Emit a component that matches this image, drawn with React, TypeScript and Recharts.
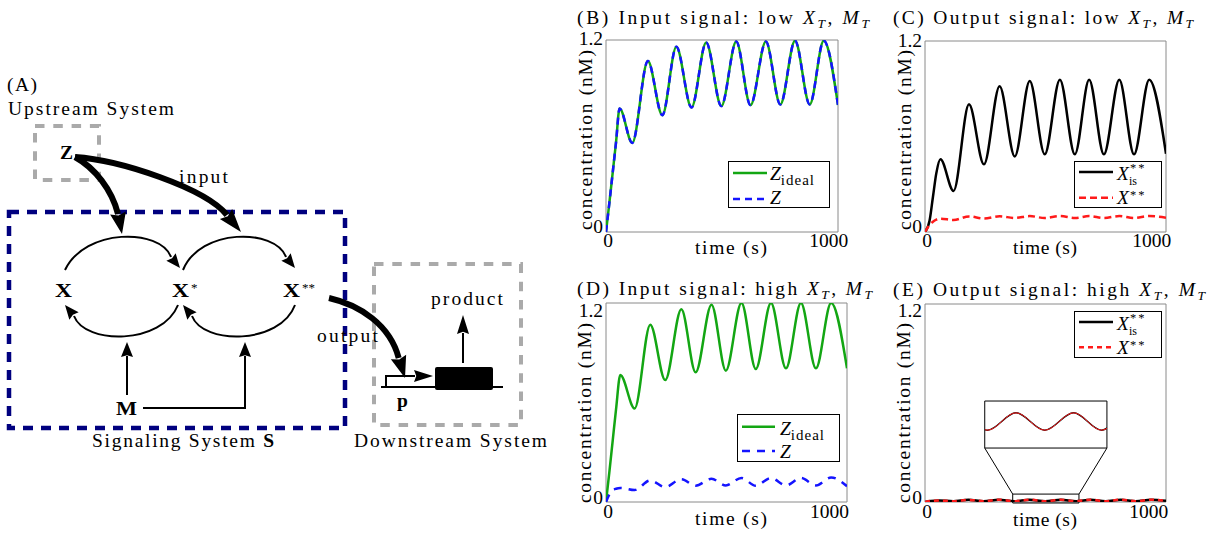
import React from 'react';
import { LineChart, Line, XAxis, YAxis, ReferenceArea, ReferenceLine, Legend } from 'recharts';

const SERIF = '"Liberation Serif", "Times New Roman", serif';
const FS = 19.5;
const GREEN = '#13a613';
const BLUE = '#1414ff';
const RED = '#ff1a1a';
const FRAME = '#8a8a8a';
const NAVY = '#00007f';
const GREY = '#aaaaaa';

// ---------- Panel B: input signal, low X_T, M_T ----------
const timeB = [0, 15, 30, 45, 61, 118, 188, 253, 316, 384, 450, 518, 585, 649, 718, 783, 849, 915, 978, 1042];
const zIdealB = [0, 0.18, 0.37, 0.56, 0.772, 0.557, 1.069, 0.73, 1.158, 0.778, 1.185, 0.787, 1.19, 0.793, 1.19, 0.797, 1.196, 0.797, 1.196, 0.793];
const zB = [0, 0.18, 0.37, 0.56, 0.772, 0.557, 1.069, 0.73, 1.158, 0.778, 1.185, 0.787, 1.19, 0.793, 1.19, 0.797, 1.196, 0.797, 1.196, 0.793];

// ---------- Panel C: output signal, low X_T, M_T ----------
const timeC = [0, 20, 35, 50, 68, 126, 194, 260, 329, 396, 462, 528, 595, 661, 724, 789, 857, 922, 989, 1063];
const xIsC = [0, 0.07, 0.22, 0.37, 0.457, 0.258, 0.802, 0.425, 0.915, 0.475, 0.949, 0.488, 0.957, 0.488, 0.957, 0.488, 0.957, 0.488, 0.957, 0.492];
const xC = [0, 0.045, 0.065, 0.078, 0.084, 0.075, 0.098, 0.085, 0.099, 0.088, 0.1, 0.088, 0.1, 0.088, 0.1, 0.088, 0.1, 0.088, 0.1, 0.09];

// ---------- Panel D: input signal, high X_T, M_T ----------
const timeD = [0, 15, 30, 45, 64, 128, 198, 265, 337, 401, 472, 536, 606, 670, 738, 805, 872, 939, 1007, 1078];
const zIdealD = [0, 0.18, 0.37, 0.56, 0.766, 0.564, 1.069, 0.735, 1.162, 0.782, 1.19, 0.792, 1.2, 0.802, 1.2, 0.806, 1.2, 0.806, 1.2, 0.806];
const zD = [0, 0.045, 0.07, 0.08, 0.085, 0.072, 0.13, 0.09, 0.138, 0.098, 0.14, 0.1, 0.145, 0.098, 0.145, 0.1, 0.145, 0.1, 0.148, 0.095];

// ---------- Panel E: output signal, high X_T, M_T ----------
const timeE = [0, 25, 63, 126, 194, 262, 330, 398, 467, 537, 607, 675, 740, 807, 875, 942, 1010, 1077];
const xIsE = [0, 0.006, 0.009, 0.005, 0.013, 0.005, 0.014, 0.005, 0.014, 0.005, 0.014, 0.005, 0.014, 0.005, 0.014, 0.005, 0.014, 0.007];
const xE = [0, 0.006, 0.009, 0.005, 0.013, 0.005, 0.014, 0.005, 0.014, 0.005, 0.014, 0.005, 0.014, 0.005, 0.014, 0.005, 0.014, 0.007];

// zoom window of panel E inset
const insetT = [392, 688];
const insetV = [-0.0042, 0.0201];
const zoomBoxV = [-0.006, 0.048];
const bigBoxT = [267, 813];
const bigBoxV = [0.327, 0.612];

const xTicks = [0, 1000];
const yTicks = [0, 1.2];

const dataB = timeB.map((t, i) => ({ t, zIdeal: zIdealB[i], z: zB[i] }));
const dataC = timeC.map((t, i) => ({ t, xis: xIsC[i], x: xC[i] }));
const dataD = timeD.map((t, i) => ({ t, zIdeal: zIdealD[i], z: zD[i] }));
const dataE = timeE.map((t, i) => ({ t, xis: xIsE[i], x: xE[i] }));

function makeXTick(dy: number) {
  return (p: any) => (
    <text x={p.x + (p.payload.value === 0 ? 2 : 0)} y={p.y + dy} textAnchor="middle" fontSize={FS} fontFamily={SERIF} fill="#000">
      {String(p.payload.value)}
    </text>
  );
}
function makeYTick(topDy: number, zeroDy: number) {
  return (p: any) => {
    const isZero = p.payload.value === 0;
    return (
      <text x={p.x - 3} y={p.y + (isZero ? zeroDy : topDy)} textAnchor="end" fontSize={FS} fontFamily={SERIF} fill="#000">
        {String(p.payload.value)}
      </text>
    );
  };
}

function LegendZ({ w, h, ly1, ly2, lx2, tx, ty1, ty2, dash }: any) {
  return (
    <svg width={w} height={h} style={{ display: 'block' }}>
      <rect x={0.5} y={0.5} width={w - 1} height={h - 1} fill="#fff" stroke="#000" strokeWidth={1} />
      <line x1={5} x2={lx2} y1={ly1} y2={ly1} stroke={GREEN} strokeWidth={2.5} />
      <text x={tx} y={ty1} fontSize={FS} fontFamily={SERIF}>
        <tspan fontStyle="italic">Z</tspan>
        <tspan fontSize={15} dy={5} letterSpacing={1}>ideal</tspan>
      </text>
      <line x1={5} x2={lx2} y1={ly2} y2={ly2} stroke={BLUE} strokeWidth={2.5} strokeDasharray={dash} />
      <text x={tx} y={ty2} fontSize={FS} fontFamily={SERIF} fontStyle="italic">Z</text>
    </svg>
  );
}

function LegendX({ w, h, ly1, ly2, ty1, ty2, dash }: any) {
  return (
    <svg width={w} height={h} style={{ display: 'block' }}>
      <rect x={0.5} y={0.5} width={w - 1} height={h - 1} fill="#fff" stroke="#000" strokeWidth={1} />
      <line x1={5} x2={39} y1={ly1} y2={ly1} stroke="#000" strokeWidth={2.5} />
      <text x={43} y={ty1} fontSize={FS} fontFamily={SERIF} fontStyle="italic">X</text>
      <text x={56} y={ty1 - 8.5} fontSize={12.5} fontFamily={SERIF} letterSpacing={2}>**</text>
      <text x={55} y={ty1 + 5} fontSize={12} fontFamily={SERIF}>is</text>
      <line x1={5} x2={39} y1={ly2} y2={ly2} stroke={RED} strokeWidth={2.5} strokeDasharray={dash} />
      <text x={43} y={ty2} fontSize={FS} fontFamily={SERIF} fontStyle="italic">X</text>
      <text x={56} y={ty2 - 5.5} fontSize={12.5} fontFamily={SERIF} letterSpacing={2}>**</text>
    </svg>
  );
}

function head(tip: number[], base: number[], w: number) {
  const dx = tip[0] - base[0];
  const dy = tip[1] - base[1];
  const L = Math.hypot(dx, dy);
  const px = (-dy / L) * (w / 2);
  const py = (dx / L) * (w / 2);
  const nx = base[0] + dx * 0.12;
  const ny = base[1] + dy * 0.12;
  return `M${tip[0]},${tip[1]} L${base[0] + px},${base[1] + py} L${nx},${ny} L${base[0] - px},${base[1] - py} Z`;
}

function Title({ x, y, w, text }: any) {
  return (
    <text x={x} y={y} fontSize={FS} fontFamily={SERIF} textLength={w} lengthAdjust="spacing">
      {text}
      <tspan fontStyle="italic">X</tspan>
      <tspan fontStyle="italic" fontSize={13.5} dy={4}>T</tspan>
      <tspan dy={-4}>{', '}</tspan>
      <tspan fontStyle="italic">M</tspan>
      <tspan fontStyle="italic" fontSize={13.5} dy={4}>T</tspan>
    </text>
  );
}

function AxisTitles({ bx, cy, tx, ty, tw }: any) {
  return (
    <g fontFamily={SERIF} fontSize={FS}>
      <text transform={`translate(${bx},${cy}) rotate(-90)`} textAnchor="middle" textLength={180} lengthAdjust="spacing">
        concentration (nM)
      </text>
      <text x={tx} y={ty} textAnchor="middle" textLength={tw} lengthAdjust="spacing">
        time (s)
      </text>
    </g>
  );
}

const common = { isAnimationActive: false, dot: false, type: 'monotone' as const };
const xAxisProps = { dataKey: 't', type: 'number' as const, ticks: xTicks, height: 30, tickSize: 0, tickMargin: 0, axisLine: false, tickLine: false, allowDataOverflow: true, interval: 0 as const };
const yAxisProps = { type: 'number' as const, domain: [0, 1.2], ticks: yTicks, width: 40, tickSize: 0, tickMargin: 0, axisLine: false, tickLine: false, allowDataOverflow: true, interval: 0 as const };

export default function App() {
  return (
    <div style={{ position: 'absolute', left: 0, top: 0, width: 1212, height: 533, background: '#fff', overflow: 'hidden', fontFamily: SERIF }}>
      {/* Panel B */}
      <div style={{ position: 'absolute', left: 556, top: 0 }}>
        <LineChart width={300} height={265} data={dataB} margin={{ top: 40, left: 10, right: 18, bottom: 3 }}>
          <XAxis {...xAxisProps} domain={[0, 1042]} tick={makeXTick(15)} />
          <YAxis {...yAxisProps} tick={makeYTick(4.5, 0.5)} />
          <ReferenceArea x1={0} x2={1042} y1={0} y2={1.2} fill="none" stroke={FRAME} strokeWidth={1} ifOverflow="visible" />
          <Line {...common} dataKey="zIdeal" stroke={GREEN} strokeWidth={2.5} />
          <Line {...common} dataKey="z" stroke={BLUE} strokeWidth={2.5} strokeDasharray="7 5" />
          <Legend layout="vertical" align="center" verticalAlign="middle" wrapperStyle={{ left: 172, top: 161, width: 102, height: 47 }}
            content={() => <LegendZ w={102} h={47} ly1={12} ly2={38} lx2={39} tx={42} ty1={19} ty2={43} dash="7 5" />} />
        </LineChart>
      </div>

      {/* Panel C */}
      <div style={{ position: 'absolute', left: 875, top: 0 }}>
        <LineChart width={320} height={265} data={dataC} margin={{ top: 41, left: 10, right: 29, bottom: 3 }}>
          <XAxis {...xAxisProps} domain={[0, 1063]} tick={makeXTick(15)} />
          <YAxis {...yAxisProps} tick={makeYTick(5.5, 0.5)} />
          <ReferenceArea x1={0} x2={1063} y1={0} y2={1.2} fill="none" stroke={FRAME} strokeWidth={1} ifOverflow="visible" />
          <Line {...common} dataKey="xis" stroke="#000" strokeWidth={2.5} />
          <Line {...common} dataKey="x" stroke={RED} strokeWidth={2.5} strokeDasharray="7 4" />
          <Legend layout="vertical" align="center" verticalAlign="middle" wrapperStyle={{ left: 199, top: 161, width: 88, height: 47 }}
            content={() => <LegendX w={88} h={47} ly1={11} ly2={36.7} ty1={19} ty2={43} dash="7 4" />} />
        </LineChart>
      </div>

      {/* Panel D */}
      <div style={{ position: 'absolute', left: 556, top: 263 }}>
        <LineChart width={310} height={270} data={dataD} margin={{ top: 40, left: 10, right: 19, bottom: 1 }}>
          <XAxis {...xAxisProps} domain={[0, 1078]} tick={makeXTick(16)} />
          <YAxis {...yAxisProps} tick={makeYTick(14, 2)} />
          <ReferenceArea x1={0} x2={1078} y1={0} y2={1.2} fill="none" stroke={FRAME} strokeWidth={1} ifOverflow="visible" />
          <Line {...common} dataKey="zIdeal" stroke={GREEN} strokeWidth={2.5} />
          <Line {...common} dataKey="z" stroke={BLUE} strokeWidth={2.5} strokeDasharray="8 7" />
          <Legend layout="vertical" align="center" verticalAlign="middle" wrapperStyle={{ left: 181, top: 151, width: 103, height: 48 }}
            content={() => <LegendZ w={103} h={48} ly1={12.7} ly2={37} lx2={38} tx={43} ty1={21} ty2={44} dash="8 7" />} />
        </LineChart>
      </div>

      {/* Panel E */}
      <div style={{ position: 'absolute', left: 875, top: 263 }}>
        <LineChart width={320} height={270} data={dataE} margin={{ top: 41, left: 10, right: 29, bottom: 1 }}>
          <XAxis {...xAxisProps} domain={[0, 1077]} tick={makeXTick(16)} />
          <YAxis {...yAxisProps} tick={makeYTick(13, 2)} />
          <ReferenceArea x1={0} x2={1077} y1={0} y2={1.2} fill="none" stroke={FRAME} strokeWidth={1} ifOverflow="visible" />
          <ReferenceArea x1={bigBoxT[0]} x2={bigBoxT[1]} y1={bigBoxV[0]} y2={bigBoxV[1]} fill="#fff" fillOpacity={1} stroke="#000" strokeWidth={1} ifOverflow="visible" />
          <ReferenceLine segment={[{ x: insetT[0], y: zoomBoxV[1] }, { x: bigBoxT[0], y: bigBoxV[0] }]} stroke="#000" strokeWidth={1} ifOverflow="visible" />
          <ReferenceLine segment={[{ x: insetT[1], y: zoomBoxV[1] }, { x: bigBoxT[1], y: bigBoxV[0] }]} stroke="#000" strokeWidth={1} ifOverflow="visible" />
          <Line {...common} dataKey="xis" stroke="#000" strokeWidth={2.5} />
          <Line {...common} dataKey="x" stroke={RED} strokeWidth={2.5} strokeDasharray="5 4" />
          <ReferenceArea x1={insetT[0]} x2={insetT[1]} y1={zoomBoxV[0]} y2={zoomBoxV[1]} fill="none" stroke="#000" strokeWidth={1} ifOverflow="visible" />
          <Legend layout="vertical" align="center" verticalAlign="middle" wrapperStyle={{ left: 199, top: 48, width: 88, height: 47 }}
            content={() => <LegendX w={88} h={47} ly1={11} ly2={36.3} ty1={19} ty2={43} dash="5 4" />} />
        </LineChart>
      </div>

      {/* Panel E inset (zoom of the same series) */}
      <div style={{ position: 'absolute', left: 985, top: 401 }}>
        <LineChart width={122} height={47} data={dataE} margin={{ top: 0, left: 0, right: 0, bottom: 0 }}>
          <XAxis dataKey="t" type="number" domain={insetT} hide allowDataOverflow />
          <YAxis type="number" domain={insetV} hide allowDataOverflow />
          <Line {...common} dataKey="xis" stroke="#000" strokeWidth={1.4} />
          <Line {...common} dataKey="x" stroke={RED} strokeWidth={1} />
        </LineChart>
      </div>

      {/* Overlay: titles, axis titles and schematic (A) */}
      <svg width={1212} height={533} style={{ position: 'absolute', left: 0, top: 0, pointerEvents: 'none' }}>
        <Title x={577} y={24} w={292} text="(B) Input signal: low " />
        <Title x={893} y={24} w={300} text="(C) Output signal: low " />
        <Title x={577} y={295} w={295} text="(D) Input signal: high " />
        <Title x={893} y={296} w={312} text="(E) Output signal: high " />

        <AxisTitles bx={592} cy={140} tx={731} ty={254} tw={72} />
        <AxisTitles bx={911} cy={140} tx={1045} ty={254} tw={64} />
        <AxisTitles bx={591} cy={413} tx={731} ty={525} tw={72} />
        <AxisTitles bx={910} cy={413} tx={1045} ty={526} tw={64} />

        {/* Schematic */}
        <g fontFamily={SERIF} fontSize={FS} fill="#000">
          <text x={7} y={91} textLength={30} lengthAdjust="spacing">(A)</text>
          <text x={8} y={115} textLength={166} lengthAdjust="spacing">Upstream System</text>
          <rect x={35} y={126} width={64} height={54} fill="none" stroke={GREY} strokeWidth={4} strokeDasharray="9.5 8.8" />
          <rect x={9} y={212} width={336} height={216} fill="none" stroke={NAVY} strokeWidth={4.5} strokeDasharray="10 8" />
          <rect x={374} y={264} width={147} height={161} fill="none" stroke={GREY} strokeWidth={4} strokeDasharray="9.5 8.8" />

          <g fill="none" stroke="#000" strokeWidth={2}>
            <path d="M65,270 C85,228 160,228 171,257" />
            <path d="M183,270 C200,228 275,228 286,257" />
            <path d="M178,305 C162,345 85,345 74,316" />
            <path d="M295,305 C280,345 203,345 192,316" />
            <path d="M127,395 L127,356" />
            <path d="M143,408 L245,408 L245,356" />
            <path d="M381,387 L503,387" />
            <path d="M386,387 L386,376 L415,376" />
            <path d="M463,363 L463,333" />
          </g>
          <g fill="#000" stroke="none">
            <path d={head([180, 268], [171, 257], 12)} />
            <path d={head([295, 268], [286, 257], 12)} />
            <path d={head([65, 305], [74, 316], 12)} />
            <path d={head([183, 305], [192, 316], 12)} />
            <path d={head([127, 342], [127, 357], 12)} />
            <path d={head([245, 342], [245, 357], 12)} />
            <path d={head([433, 376], [414, 376], 12)} />
            <path d={head([463, 315], [463, 334], 12)} />
            <rect x={435} y={367} width={58} height={23} rx={2} />
          </g>

          <g fill="none" stroke="#000" strokeWidth={6}>
            <path d="M75,157 C95,168 112,190 118,214" />
            <path d="M75,157 C120,160 205,188 227,215" />
            <path d="M329,298 C360,305 390,325 398.7,358" />
          </g>
          <g fill="#000" stroke="none">
            <path d={head([122, 234], [118, 213], 16)} />
            <path d={head([241, 232], [226, 214], 16)} />
            <path d={head([405, 378], [398.5, 357], 16)} />
          </g>

          <text x={60} y={159} fontWeight="bold">Z</text>
          <text x={179} y={183} textLength={49} lengthAdjust="spacing">input</text>
          <text x={55} y={297} fontWeight="bold" textLength={17} lengthAdjust="spacingAndGlyphs">X</text>
          <text x={172} y={297} fontWeight="bold">
            <tspan textLength={17} lengthAdjust="spacingAndGlyphs">X</tspan>
            <tspan fontWeight="normal" fontSize={13} dx={2} dy={-5}>*</tspan>
          </text>
          <text x={283} y={297} fontWeight="bold">
            <tspan textLength={17} lengthAdjust="spacingAndGlyphs">X</tspan>
            <tspan fontWeight="normal" fontSize={13} dx={2} dy={-5}>**</tspan>
          </text>
          <text x={116} y={415} fontWeight="bold" textLength={21} lengthAdjust="spacingAndGlyphs">M</text>
          <text x={317} y={342} textLength={61} lengthAdjust="spacing">output</text>
          <text x={397} y={407} fontWeight="bold">p</text>
          <text x={431} y={305} textLength={72} lengthAdjust="spacing">product</text>
          <text x={92} y={447} textLength={182} lengthAdjust="spacing">
            {'Signaling System '}
            <tspan fontWeight="bold">S</tspan>
          </text>
          <text x={354} y={447} textLength={193} lengthAdjust="spacing">Downstream System</text>
        </g>
      </svg>
    </div>
  );
}
